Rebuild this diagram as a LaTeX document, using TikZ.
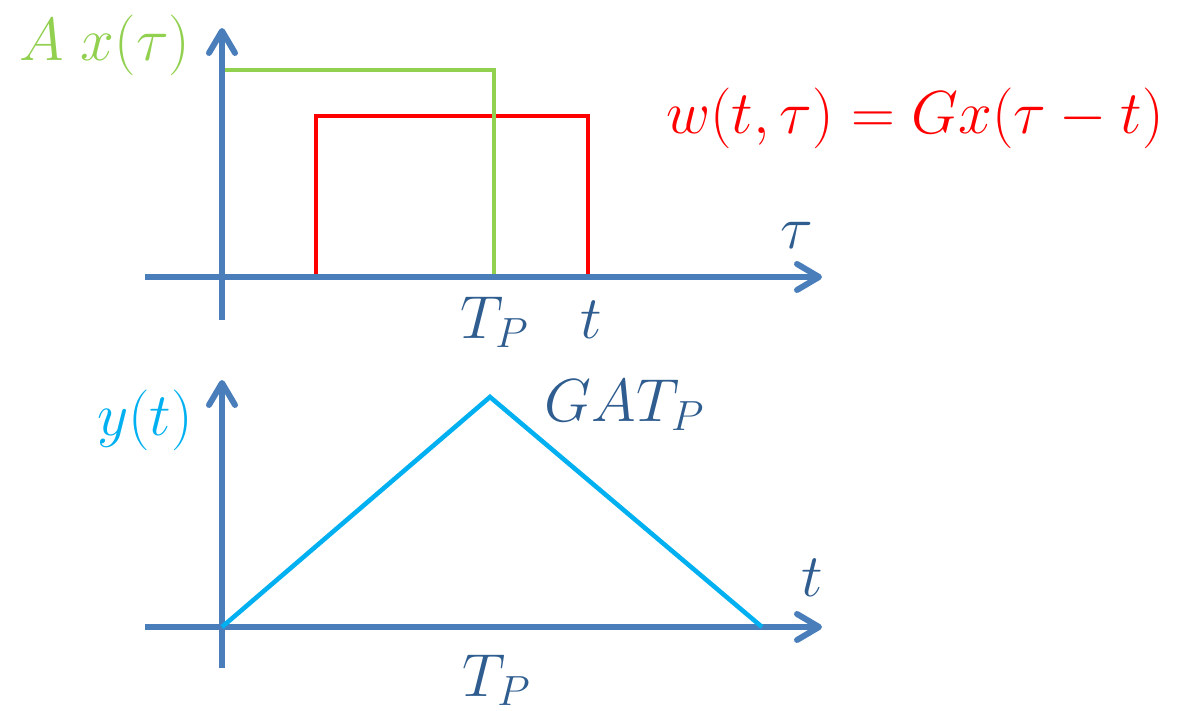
\documentclass[tikz,border=0pt]{standalone}
\usepackage{xcolor}
\usepackage{tikz}
\usepackage{amsmath}
\usetikzlibrary{arrows.meta, positioning}

\definecolor{axisblue}{HTML}{4A7EBB}
\definecolor{labelblue}{HTML}{2F5D8F}
\definecolor{xgreen}{HTML}{92D050}
\definecolor{wred}{HTML}{FF0000}
\definecolor{ycyan}{HTML}{00B0F0}

\begin{document}
\begin{tikzpicture}[
    axis/.style = {draw=axisblue, line width=1.7pt, -{Straight Barb[round, length=2.2mm, width=2.6mm, line width=1.7pt]}},
    sig/.style = {line width=1.3pt},
    lbl/.style = {font=\fontsize{17.5}{20}\selectfont, text=labelblue, inner sep=0pt}
]
\useasboundingbox (0,0) rectangle (11.87,7.11);

% top plot
\coordinate (o1) at (2.22,4.34);
\coordinate (tauend) at (8.22,4.34);
\coordinate (tau0) at (1.45,4.34);
\coordinate (xbot) at (2.22,3.91);
\coordinate (xtop) at (2.22,6.83);

\draw[sig, wred] (3.16,4.34) rectangle (5.88,5.95);
\draw[sig, xgreen] (2.22,4.34) rectangle (4.94,6.41);
\draw[axis] (tau0) -- (tauend);
\draw[axis] (xbot) -- (xtop);

\node[lbl, text=xgreen] (ax) at (1.05,6.66) {$A\;x(\tau)$};
\node[lbl, text=wred] (w) at (9.15,5.93) {$w(t,\tau)=Gx(\tau-t)$};
\node[lbl] (tau) at (7.97,4.76) {$\tau$};
\node[lbl] (tp1) at (4.95,3.89) {$T_P$};
\node[lbl] (t1) at (5.91,3.91) {$t$};

% bottom plot
\coordinate (o2) at (2.22,0.84);
\coordinate (tend) at (8.22,0.84);
\coordinate (t0) at (1.45,0.84);
\coordinate (ybot) at (2.22,0.43);
\coordinate (ytop) at (2.22,3.31);
\coordinate (peak) at (4.90,3.14);
\coordinate (tri) at (7.62,0.84);

\draw[axis] (t0) -- (tend);
\draw[axis] (ybot) -- (ytop);
\draw[sig, ycyan, line join=miter] (o2) -- (peak) -- (tri);

\node[lbl, text=ycyan] (y) at (1.45,2.91) {$y(t)$};
\node[lbl] (gat) at (6.25,3.06) {$GAT_P$};
\node[lbl] (t2) at (8.12,1.33) {$t$};
\node[lbl] (tp2) at (4.97,0.31) {$T_P$};

\end{tikzpicture}
\end{document}
